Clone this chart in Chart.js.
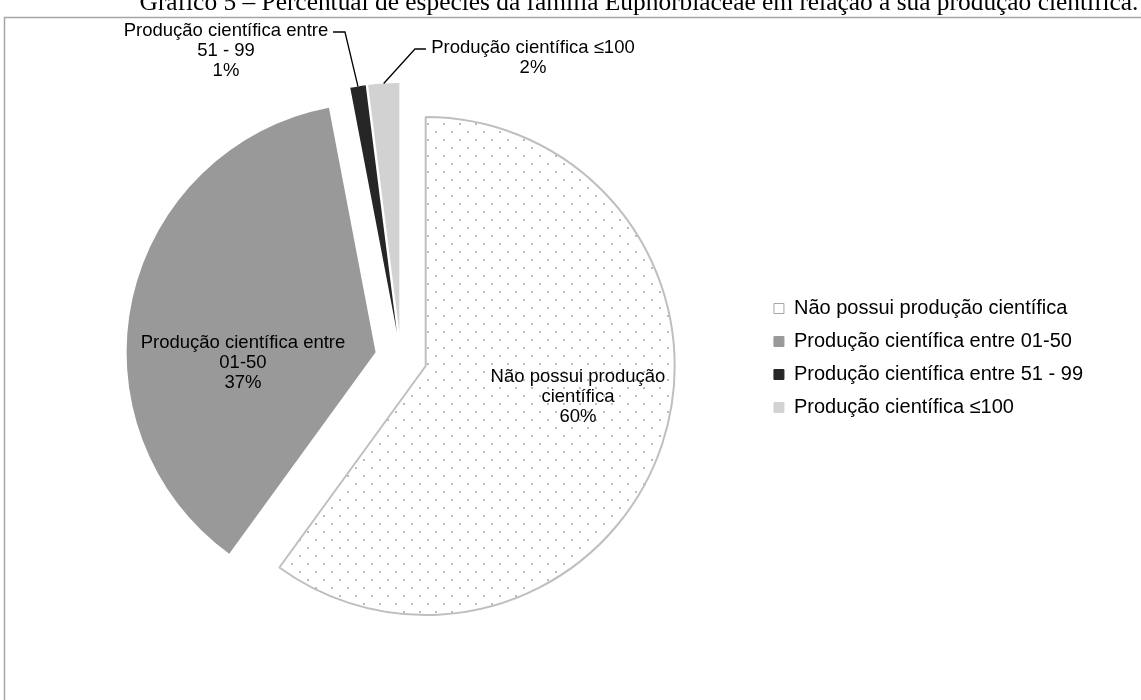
<!DOCTYPE html>
<html lang="pt-BR">
<head>
<meta charset="utf-8">
<title>Produção científica – Euphorbiaceae</title>
<script src="https://cdn.jsdelivr.net/npm/chart.js@4.4.1/dist/chart.umd.min.js"></script>
<style>
  html, body { margin: 0; padding: 0; background: #fff; }
  #wrap { width: 1141px; height: 700px; position: relative; }
</style>
</head>
<body>
<div id="wrap"><canvas id="chart"></canvas></div>
<script>
const titleText = 'Gráfico 5 – Percentual de espécies da família Euphorbiaceae em relação à sua produção científica.';

const categories = [
  'Não possui produção científica',
  'Produção científica entre 01-50',
  'Produção científica entre 51 - 99',
  'Produção científica ≤100'
];
const percentages = [60, 37, 1, 2];

// Label text for each slice, broken into lines; the percentage is appended below
const sliceLabelLines = [
  ['Não possui produção', 'científica'],
  ['Produção científica entre', '01-50'],
  ['Produção científica entre', '51 - 99'],
  ['Produção científica ≤100']
];

const SANS = '"Liberation Sans", Arial, sans-serif';
const SERIF = '"Liberation Serif", "Times New Roman", serif';
const RADIUS = 249;
const EXPLODE = 26;          // distance every slice is pulled out from the centre
const LABEL_SIZE = 18.5;
const LABEL_LINE = 20;

// Label block centres relative to the pie centre; outside labels get a leader line
const labelPlacement = [
  { dx: 177, dy: 39 },
  { dx: -158, dy: 5 },
  { dx: -175, dy: -307, leader: [[-56, -326], [-68, -326]] },
  { dx: 132, dy: -300, leader: [[14, -309], [25, -309]] }
];

function dotPattern() {
  const c = document.createElement('canvas');
  c.width = 16; c.height = 16;
  const g = c.getContext('2d');
  g.fillStyle = '#ffffff';
  g.fillRect(0, 0, 16, 16);
  g.fillStyle = '#bcbcbc';
  g.fillRect(3, 3, 2, 2);
  g.fillRect(11, 11, 2, 2);
  return g.createPattern(c, 'repeat');
}

const sliceFill = [dotPattern(), '#999999', '#262626', '#d2d2d2'];
const sliceBorder = ['#bfbfbf', '#999999', '#262626', '#d2d2d2'];
const legendFill = ['#ffffff', '#999999', '#262626', '#d2d2d2'];
const legendStroke = ['#a6a6a6', '#999999', '#262626', '#d2d2d2'];

function pieCentre(chart) {
  const a = chart.chartArea;
  return { cx: (a.left + a.right) / 2, cy: (a.top + a.bottom) / 2 };
}

// Pull every slice out along its bisector by the same distance
const explodeSlices = {
  id: 'explodeSlices',
  afterDatasetsUpdate(chart) {
    const { cx, cy } = pieCentre(chart);
    chart.getDatasetMeta(0).data.forEach(arc => {
      const mid = (arc.startAngle + arc.endAngle) / 2;
      arc.x = cx + Math.cos(mid) * EXPLODE;
      arc.y = cy + Math.sin(mid) * EXPLODE;
    });
  }
};

const frameAndTitle = {
  id: 'frameAndTitle',
  beforeDraw(chart) {
    const { ctx, width, height } = chart;
    ctx.save();
    ctx.fillStyle = '#fff';
    ctx.fillRect(0, 0, width, height);
    ctx.strokeStyle = '#a6a6a6';
    ctx.lineWidth = 1.5;
    ctx.beginPath();
    ctx.moveTo(4.5, height);
    ctx.lineTo(4.5, 17.5);
    ctx.lineTo(width, 17.5);
    ctx.stroke();
    ctx.fillStyle = '#000';
    ctx.font = `25.4px ${SERIF}`;
    ctx.textAlign = 'center';
    ctx.textBaseline = 'alphabetic';
    ctx.fillText(titleText, 639, 10);
    ctx.restore();
  }
};

const sliceLabels = {
  id: 'sliceLabels',
  afterDatasetsDraw(chart) {
    const { ctx } = chart;
    const { cx, cy } = pieCentre(chart);
    const arcs = chart.getDatasetMeta(0).data;
    ctx.save();
    ctx.font = `${LABEL_SIZE}px ${SANS}`;
    ctx.fillStyle = '#000';
    ctx.textAlign = 'center';
    ctx.textBaseline = 'middle';
    arcs.forEach((arc, i) => {
      const { x, y, startAngle, endAngle, outerRadius } =
        arc.getProps(['x', 'y', 'startAngle', 'endAngle', 'outerRadius'], true);
      const mid = (startAngle + endAngle) / 2;
      const place = labelPlacement[i];
      if (place.leader) {
        ctx.beginPath();
        ctx.moveTo(x + Math.cos(mid) * outerRadius, y + Math.sin(mid) * outerRadius);
        place.leader.forEach(([lx, ly]) => ctx.lineTo(cx + lx, cy + ly));
        ctx.strokeStyle = '#000';
        ctx.lineWidth = 1.3;
        ctx.stroke();
      }
      const lines = [...sliceLabelLines[i], percentages[i] + '%'];
      const top = cy + place.dy - (lines.length - 1) * LABEL_LINE / 2;
      lines.forEach((t, k) => ctx.fillText(t, cx + place.dx, top + k * LABEL_LINE));
    });
    ctx.restore();
  }
};

new Chart(document.getElementById('chart'), {
  type: 'pie',
  data: {
    labels: categories,
    datasets: [{
      data: percentages,
      backgroundColor: sliceFill,
      borderColor: sliceBorder,
      borderWidth: [2, 0, 0, 0],
      hoverOffset: 0
    }]
  },
  options: {
    responsive: true,
    maintainAspectRatio: false,
    animation: false,
    radius: RADIUS,
    layout: { padding: { left: 41, right: 48, top: 16, bottom: 0 } },
    plugins: {
      tooltip: { enabled: false },
      legend: {
        position: 'right',
        align: 'center',
        labels: {
          boxWidth: 10,
          boxHeight: 10,
          padding: 13,
          color: '#000',
          font: { family: SANS, size: 20 },
          generateLabels(chart) {
            const items = Chart.overrides.doughnut.plugins.legend.labels.generateLabels(chart);
            items.forEach((it, i) => {
              it.fillStyle = legendFill[i];
              it.strokeStyle = legendStroke[i];
              it.lineWidth = 1;
            });
            return items;
          }
        }
      }
    }
  },
  plugins: [explodeSlices, frameAndTitle, sliceLabels]
});
</script>
</body>
</html>
